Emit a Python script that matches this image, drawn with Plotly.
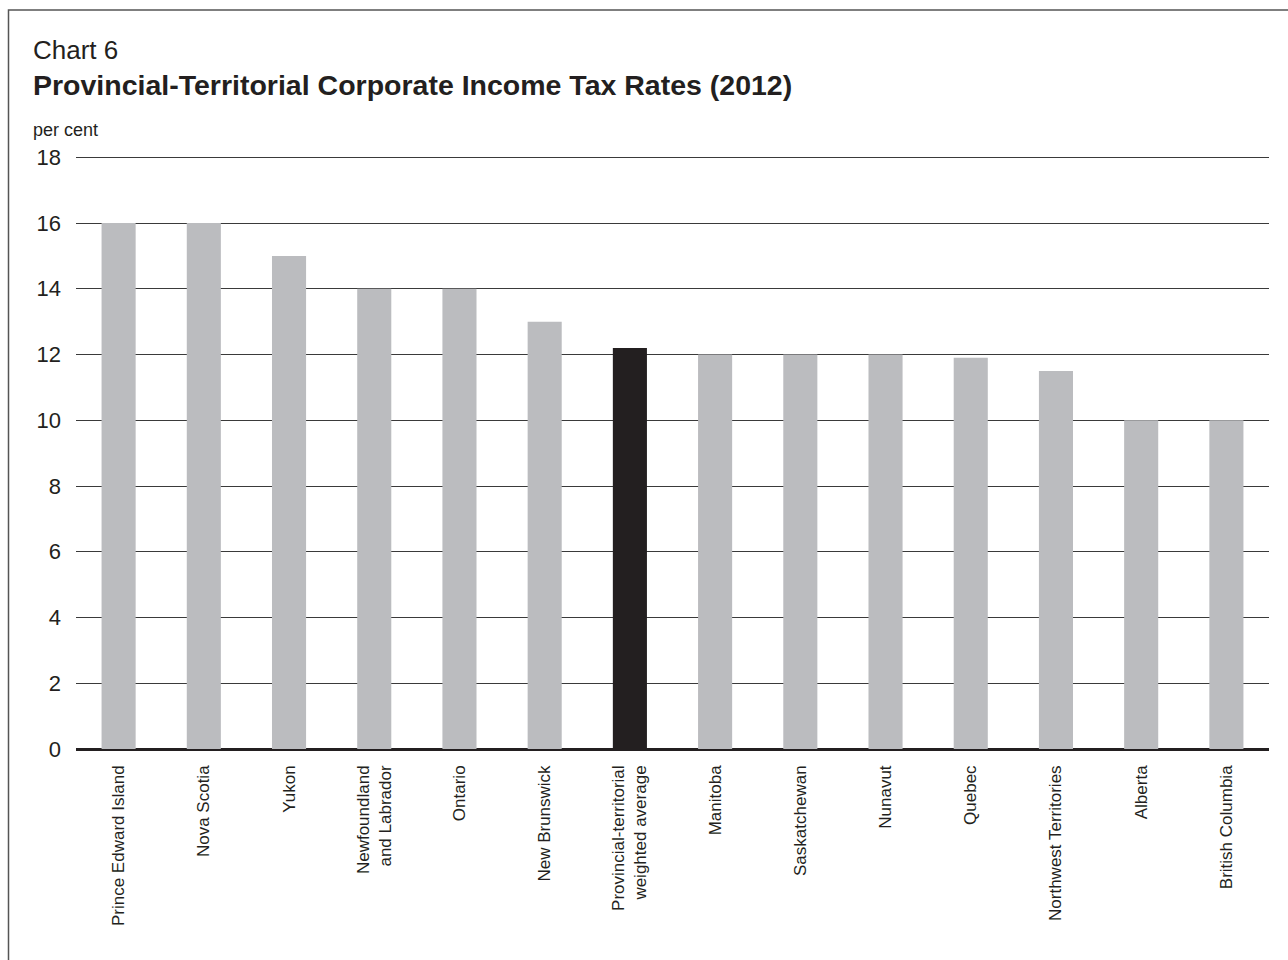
import plotly.graph_objects as go

categories = ["Prince Edward Island", "Nova Scotia", "Yukon", "Newfoundland<br>and Labrador",
              "Ontario", "New Brunswick", "Provincial-territorial<br>weighted average",
              "Manitoba", "Saskatchewan", "Nunavut", "Quebec", "Northwest Territories",
              "Alberta", "British Columbia"]
rates = [16, 16, 15, 14, 14, 13, 12.2, 12, 12, 12, 11.9, 11.5, 10, 10]
highlight = "Provincial-territorial<br>weighted average"
y_ticks = [0, 2, 4, 6, 8, 10, 12, 14, 16, 18]

W, H = 1288, 960
ML, MR, MT, MB = 76, 19, 154, 211
PW, PH = W - ML - MR, H - MT - MB

colors = ["#231F20" if c == highlight else "#BBBCBF" for c in categories]

fig = go.Figure(go.Bar(x=categories, y=rates, marker=dict(color=colors, line=dict(width=0)),
                       hoverinfo="x+y"))

FONT = "Liberation Sans, Arial, Helvetica, sans-serif"

def px_x(x):
    return (x - ML) / PW

def px_y(y):
    return 1 - (y - MT) / PH

fig.update_layout(
    width=W, height=H,
    margin=dict(l=ML, r=MR, t=MT, b=MB),
    plot_bgcolor="white", paper_bgcolor="white",
    bargap=0.6, showlegend=False,
    font=dict(family=FONT, color="#231F20"),
    xaxis=dict(tickangle=-90, tickfont=dict(size=17, color="#231F20"), showgrid=False,
               showline=False, ticks="", ticklabelstandoff=12, fixedrange=True),
    yaxis=dict(range=[0, 18.1], tickvals=y_ticks, tickfont=dict(size=22, color="#231F20"),
               showgrid=True, gridcolor="#3a3a3a", gridwidth=1, zeroline=True,
               zerolinecolor="#231F20", zerolinewidth=2.5, showline=False, ticks="",
               ticklabelstandoff=14, fixedrange=True),
    shapes=[dict(type="rect", xref="paper", yref="paper",
                 x0=px_x(8.5), x1=px_x(1300), y0=px_y(975), y1=px_y(10),
                 line=dict(color="#555555", width=1.5), fillcolor="rgba(0,0,0,0)", layer="below")],
    annotations=[
        dict(text="Chart 6", xref="paper", yref="paper", x=px_x(31), y=px_y(50),
             xanchor="left", yanchor="middle", showarrow=False,
             font=dict(size=26, color="#231F20", family=FONT)),
        dict(text="<b>Provincial-Territorial Corporate Income Tax Rates (2012)</b>", xref="paper",
             yref="paper", x=px_x(31), y=px_y(85), xanchor="left", yanchor="middle",
             showarrow=False, font=dict(size=28.5, color="#231F20", family=FONT)),
        dict(text="per cent", xref="paper", yref="paper", x=px_x(31), y=px_y(130),
             xanchor="left", yanchor="middle", showarrow=False,
             font=dict(size=18, color="#231F20", family=FONT)),
    ],
)

fig.write_html("out.html")
